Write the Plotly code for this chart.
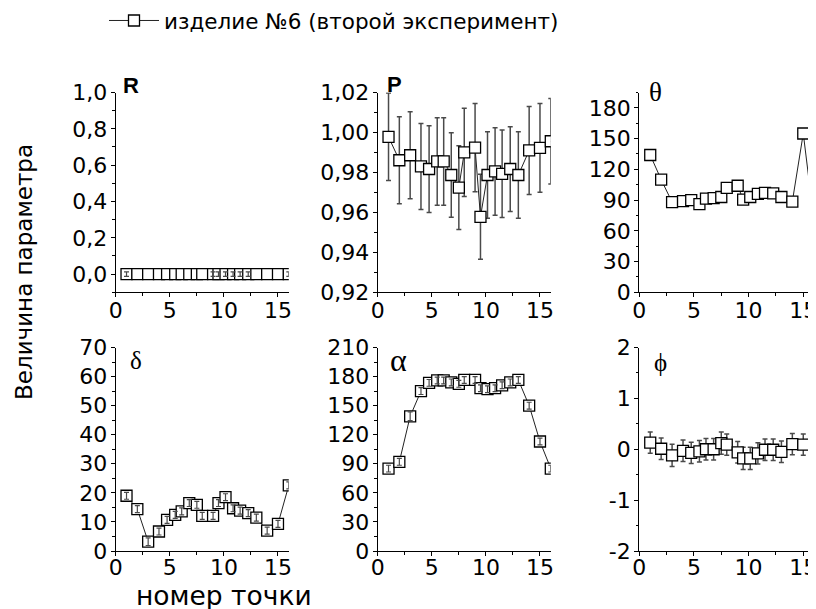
import plotly.graph_objects as go

# ---------------- data ----------------
x_pts = [1, 2, 3, 4, 4.75, 5.5, 6.1, 6.8, 7.5, 8, 9, 9.5, 10.15, 10.85, 11.5, 12.25, 13, 14, 15, 16]

R_vals = [0.0, 0.0, 0.0, 0.0, 0.0, 0.0, 0.0, 0.0, 0.0, 0.0,
          0.0, 0.0, 0.0, 0.0, 0.0, 0.0, 0.0, 0.0, 0.0, 0.0]
R_err = [0.012, None, None, None, None, None, None, None, None, None,
         0.012, 0.012, 0.012, 0.012, 0.012, 0.012, None, None, None, 0.012]

P_vals = [0.9978, 0.9861, 0.9886, 0.9830, 0.9817, 0.9855, 0.9855, 0.9787, 0.9724, 0.9900,
          0.9924, 0.9578, 0.9787, 0.9805, 0.9793, 0.9817, 0.9787, 0.9910, 0.9923, 0.9956]
P_err = [0.0219, 0.0218, 0.0218, 0.0215, 0.0217, 0.0219, 0.0219, 0.0211, 0.0210, 0.0221,
         0.0221, 0.0213, 0.0216, 0.0219, 0.0219, 0.0212, 0.0216, 0.0220, 0.0222, 0.0214]

theta_vals = [134, 110, 88, 89, 90, 86, 91.5, 92, 93, 102,
              104, 90.5, 93, 96, 97, 96.5, 93, 88.5, 155, 68]

delta_vals = [19.0, 14.4, 3.2, 6.7, 10.7, 12.4, 13.6, 16.5, 15.9, 12.1,
              12.1, 16.5, 18.5, 14.7, 13.9, 13.0, 11.5, 7.0, 9.3, 22.6]
delta_err = [1.2, 1.2, 1.3, 1.2, 1.2, 1.2, 1.2, 1.2, 1.2, 1.2,
             1.2, 1.2, 1.2, 1.2, 1.2, 1.2, 1.2, 1.2, 1.2, 1.2]

alpha_vals = [85, 92, 139, 165, 173.5, 176, 176, 174, 172.5, 176.5,
              176.5, 168, 167, 168, 171, 174, 176.5, 150, 113, 85]
alpha_err = [3.5, 3.5, 4.5, 3.5, 3.5, 3.5, 3.5, 3.5, 3.5, 3.5,
             3.5, 3.5, 3.5, 3.5, 3.5, 3.5, 3.5, 3.5, 3.5, 3.5]

phi_vals = [0.13, 0.01, -0.12, -0.03, -0.07, -0.04, 0.0, 0.0, 0.12, 0.09,
            -0.06, -0.18, -0.18, -0.08, -0.01, -0.01, -0.05, 0.10, 0.09, -0.11]
phi_err = [0.21, 0.21, 0.22, 0.21, 0.21, 0.21, 0.21, 0.21, 0.22, 0.21,
           0.21, 0.22, 0.22, 0.21, 0.21, 0.21, 0.21, 0.21, 0.21, 0.21]

# tick values / labels
x_ticks = [0, 5, 10, 15]
R_ticks = [0.0, 0.2, 0.4, 0.6, 0.8, 1.0]
P_ticks = [0.92, 0.94, 0.96, 0.98, 1.00, 1.02]
theta_ticks = [0, 30, 60, 90, 120, 150, 180]
delta_ticks = [0, 10, 20, 30, 40, 50, 60, 70]
alpha_ticks = [0, 30, 60, 90, 120, 150, 180, 210]
phi_ticks = [-2, -1, 0, 1, 2]
phi_ticklabels = ["-2", "-1", "0", "1", "2"]

legend_name = "изделие №6 (второй эксперимент)"
y_title = "Величина параметра"
x_title = "номер точки"
panel_labels = ["R", "P", "θ", "δ", "α", "ϕ"]

# ---------------- layout helpers ----------------
# the page body has an 8 px margin at top/left; the figure fills the rest of the window
OFF = 8
W, H = 816 - OFF, 609 - OFF
def px_x(p): return (p - OFF) / W
def px_y(p): return 1 - (p - OFF) / H

col_dom = [(115.7, 288.8), (377.7, 550.8), (639.3, 814.2)]
row_dom = [(92.5, 292.3), (347.5, 551.0)]

TICKFONT = dict(family="DejaVu Sans", size=22, color="black")
ERRCOL = "#4a4a4a"

fig = go.Figure()

panels = [
    # (vals, err, err_on_top, yrange, ticks, ticklabels, minor, fmt)
    (R_vals, R_err, True, [-0.1, 1.0], R_ticks, None, 0.1, ".1f"),
    (P_vals, P_err, False, [0.92, 1.02], P_ticks, None, 0.01, ".2f"),
    (theta_vals, None, False, [0, 195], theta_ticks, None, 15, "d"),
    (delta_vals, delta_err, True, [0, 70], delta_ticks, None, 5, "d"),
    (alpha_vals, alpha_err, True, [0, 210], alpha_ticks, None, 15, "d"),
    (phi_vals, phi_err, False, [-2, 2], phi_ticks, phi_ticklabels, 0.5, "d"),
]

layout_axes = {}
for i, (vals, err, on_top, yr, tv, tt, mdt, fmt) in enumerate(panels):
    n = i + 1
    xa = "x" if n == 1 else f"x{n}"
    ya = "y" if n == 1 else f"y{n}"
    r, c = divmod(i, 3)
    err_spec = None
    if err is not None and not on_top:
        err_spec = dict(type="data", array=err, visible=True, color=ERRCOL,
                        thickness=1.5, width=2.5)
    fig.add_trace(go.Scatter(
        x=x_pts, y=vals, xaxis=xa, yaxis=ya,
        mode="lines+markers",
        line=dict(color="#222222", width=1),
        marker=dict(symbol="square", size=11, color="white",
                    line=dict(color="black", width=1.3)),
        error_y=err_spec,
        name=legend_name, showlegend=(n == 1),
    ))
    if err is not None and on_top:
        sel = [k for k, e in enumerate(err) if e is not None]
        fig.add_trace(go.Scatter(
            x=[x_pts[k] for k in sel], y=[vals[k] for k in sel],
            xaxis=xa, yaxis=ya, mode="markers",
            marker=dict(size=1, color="rgba(0,0,0,0)"),
            error_y=dict(type="data", array=[err[k] for k in sel], visible=True,
                         color=ERRCOL, thickness=1.2, width=2.5),
            showlegend=False, hoverinfo="skip",
        ))
    xd = col_dom[c]
    yd = row_dom[r]
    common = dict(showgrid=False, zeroline=False, showline=True, linecolor="black",
                  linewidth=1.3, ticks="outside", ticklen=4, tickwidth=1.3,
                  tickcolor="black", tickfont=TICKFONT, mirror=False, automargin=False,
                  ticklabeloverflow="allow")
    layout_axes["xaxis" if n == 1 else f"xaxis{n}"] = dict(
        domain=[px_x(xd[0]), min(1.0, px_x(xd[1]))], anchor=ya, range=[0, 16],
        tickmode="array", tickvals=x_ticks, ticklabelstandoff=(-6 if r == 0 else -8),
        minor=dict(tickmode="linear", tick0=0, dtick=2.5, ticks="outside", ticklen=2.5,
                   tickcolor="black", tickwidth=1),
        **common)
    yax = dict(
        domain=[px_y(yd[1]), px_y(yd[0])], anchor=xa, range=yr,
        tickmode="array", tickvals=tv, tickformat=fmt, ticklabelstandoff=-1,
        minor=dict(tickmode="linear", tick0=0, dtick=mdt, ticks="outside", ticklen=2.5,
                   tickcolor="black", tickwidth=1),
        **common)
    if tt is not None:
        yax["ticktext"] = tt
    layout_axes["yaxis" if n == 1 else f"yaxis{n}"] = yax

annotations = []
label_pos = [(130.5, 85.5), (394.5, 84), (655, 92.5), (136, 360), (398.5, 359.5), (660.5, 362.5)]
label_font = [
    dict(family="Liberation Sans", size=22, color="black", weight="bold"),
    dict(family="Liberation Sans", size=22, color="black", weight="bold"),
    dict(family="Liberation Serif", size=27, color="black"),
    dict(family="Liberation Serif", size=25, color="black"),
    dict(family="Liberation Serif", size=32, color="black"),
    dict(family="Liberation Serif", size=25, color="black"),
]
for txt, (lx, ly), f in zip(panel_labels, label_pos, label_font):
    annotations.append(dict(text=txt, x=px_x(lx), y=px_y(ly), xref="paper", yref="paper",
                            xanchor="center", yanchor="middle", showarrow=False, font=f))

annotations.append(dict(text=y_title, x=px_x(24), y=px_y(272), xref="paper", yref="paper",
                        xanchor="center", yanchor="middle", textangle=-90, showarrow=False,
                        font=dict(family="DejaVu Sans", size=23, color="black")))
annotations.append(dict(text=x_title, x=px_x(224), y=px_y(595), xref="paper", yref="paper",
                        xanchor="center", yanchor="middle", showarrow=False,
                        font=dict(family="DejaVu Sans", size=26.5, color="black")))

fig.update_layout(
    template="none",
    width=W, height=H,
    margin=dict(l=0, r=0, t=0, b=0, pad=0, autoexpand=False),
    paper_bgcolor="white", plot_bgcolor="white",
    separators=", ",
    showlegend=True,
    legend=dict(x=px_x(104), y=1.0 + 8 / H, xanchor="left", yanchor="top",
                bgcolor="rgba(0,0,0,0)", borderwidth=0, itemwidth=50,
                font=dict(family="DejaVu Sans", size=21.5, color="black")),
    annotations=annotations,
    **layout_axes,
)

fig.write_html("out.html")
